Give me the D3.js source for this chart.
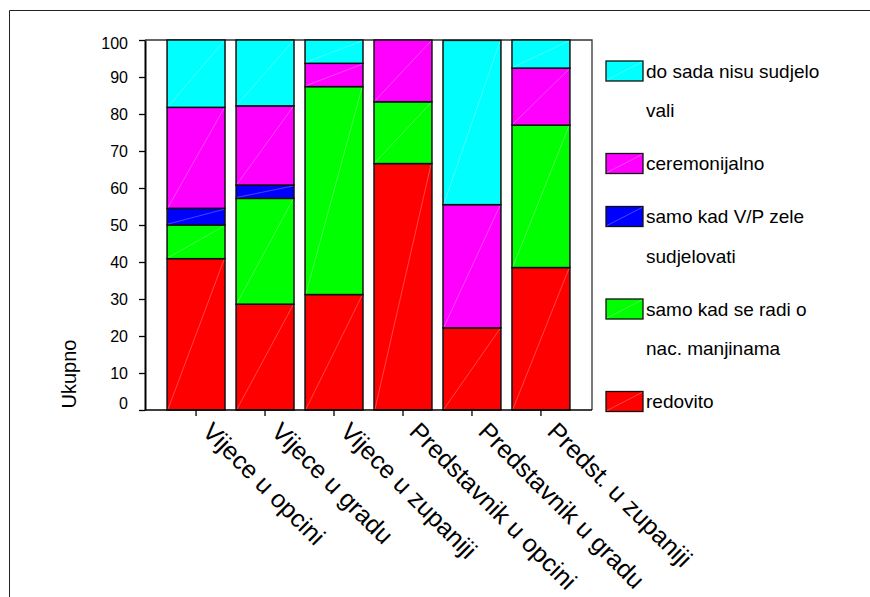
<!DOCTYPE html>
<html>
<head>
<meta charset="utf-8">
<script src="https://cdn.jsdelivr.net/npm/d3@7"></script>
<style>
  html, body { margin: 0; padding: 0; background: #fff; }
  svg { display: block; font-family: "Liberation Sans", Arial, sans-serif; }
</style>
</head>
<body>
<svg id="chart" width="870" height="597"></svg>
<script>
// ---- data ----
const categories = ["Vijece u opcini", "Vijece u gradu", "Vijece u zupaniji",
                    "Predstavnik u opcini", "Predstavnik u gradu", "Predst. u zupaniji"];
const redovito        = [40.9, 28.6, 31.2, 66.6, 22.2, 38.5];
const nacManjine      = [9.1, 28.6, 56.2, 16.7, 0, 38.5];
const kadZele         = [4.5, 3.6, 0, 0, 0, 0];
const ceremonijalno   = [27.3, 21.4, 6.3, 16.7, 33.3, 15.4];
const nisuSudjelovali = [18.2, 17.9, 6.3, 0, 44.4, 7.7];
const seriesKeys   = ["redovito", "nacManjine", "kadZele", "ceremonijalno", "nisuSudjelovali"];
const seriesLabels = [["redovito"], ["samo kad se radi o", "nac. manjinama"],
                      ["samo kad V/P zele", "sudjelovati"], ["ceremonijalno"],
                      ["do sada nisu sudjelo", "vali"]];
const seriesColors = ["#ff0000", "#00ff00", "#0000ff", "#ff00ff", "#00ffff"];
const yTicks = [0, 10, 20, 30, 40, 50, 60, 70, 80, 90, 100];
const yTitle = "Ukupno";

// ---- build table ----
const seriesValues = { redovito, nacManjine, kadZele, ceremonijalno, nisuSudjelovali };
const table = categories.map((c, i) => {
  const row = { cat: c };
  seriesKeys.forEach(k => row[k] = seriesValues[k][i]);
  return row;
});
const stacked = d3.stack().keys(seriesKeys)(table);

// ---- layout ----
const svg = d3.select("#chart");
const L = 145, R = 592, T = 40, B = 410;

// outer frame
svg.append("line").attr("x1", 9.5).attr("x2", 870).attr("y1", 10.5).attr("y2", 10.5)
  .attr("stroke", "#222").attr("stroke-width", 1);
svg.append("line").attr("x1", 9.5).attr("x2", 9.5).attr("y1", 10.5).attr("y2", 597)
  .attr("stroke", "#222").attr("stroke-width", 1);

const x = d3.scaleBand().domain(categories).range([L, R]).paddingInner(0.16).paddingOuter(0.32);
const y = d3.scaleLinear().domain([0, 100]).range([B, T]);

// plot frame (top/right)
svg.append("path")
  .attr("d", `M${L},${T}H${R}V${B}`)
  .attr("fill", "none").attr("stroke", "#333").attr("stroke-width", 1.3);

// bars
const color = d3.scaleOrdinal().domain(seriesKeys).range(seriesColors);
const layers = svg.append("g").selectAll("g").data(stacked).join("g")
  .attr("fill", d => color(d.key));
const segs = layers.selectAll("g.seg")
  .data(d => d.filter(s => s[1] - s[0] > 0))
  .join("g").attr("class", "seg");
segs.append("rect")
  .attr("x", d => x(d.data.cat))
  .attr("y", d => y(Math.min(100, d[1])))
  .attr("width", x.bandwidth())
  .attr("height", d => y(d[0]) - y(Math.min(100, d[1])))
  .attr("stroke", "#111").attr("stroke-width", 1.5);
segs.append("line")
  .attr("x1", d => x(d.data.cat) + 1)
  .attr("y1", d => y(d[0]) - 1)
  .attr("x2", d => x(d.data.cat) + x.bandwidth() - 1)
  .attr("y2", d => y(Math.min(100, d[1])) + 1)
  .attr("stroke", "#fff").attr("stroke-opacity", 0.35).attr("stroke-width", 0.8);

// y axis
const yAxis = svg.append("g").attr("transform", `translate(${L},0)`)
  .call(d3.axisLeft(y).tickValues(yTicks).tickSize(6).tickPadding(11).tickSizeOuter(0));
yAxis.select(".domain").attr("stroke", "#000").attr("stroke-width", 2);
yAxis.selectAll(".tick line").attr("stroke", "#000").attr("stroke-width", 1.3);
yAxis.selectAll(".tick text").attr("font-size", 16).attr("fill", "#000")
  .attr("font-family", "'Liberation Sans', Arial, sans-serif")
  .attr("dy", d => d === 0 ? "-0.1em" : (d === 100 ? "0.5em" : "0.32em"));

// x axis
const xAxis = svg.append("g").attr("transform", `translate(0,${B})`)
  .call(d3.axisBottom(x).tickSize(6).tickSizeOuter(0));
xAxis.select(".domain").attr("d", `M${L},0H${R}`).attr("stroke", "#000").attr("stroke-width", 1.5);
xAxis.selectAll(".tick line").attr("stroke", "#000").attr("stroke-width", 1.3);
xAxis.selectAll(".tick text")
  .attr("font-size", 25).attr("fill", "#000")
  .attr("font-family", "'Liberation Sans', Arial, sans-serif")
  .attr("text-anchor", "start")
  .attr("x", 0).attr("y", 0).attr("dy", 0)
  .attr("transform", "translate(5,23) rotate(45)");

// y title
svg.append("text")
  .attr("transform", `translate(76,374) rotate(-90)`)
  .attr("text-anchor", "middle")
  .attr("font-size", 20).attr("fill", "#000")
  .text(yTitle);

// legend (top to bottom = reverse stack order)
const legendOrder = d3.range(seriesKeys.length).reverse();
const lineH = 39.5, itemGap = 13.5;
let cy = 71;
const lg = svg.append("g");
legendOrder.forEach(i => {
  const g = lg.append("g");
  g.append("rect").attr("x", 606).attr("y", cy - 10).attr("width", 37).attr("height", 20)
    .attr("fill", seriesColors[i]).attr("stroke", "#111").attr("stroke-width", 1.3);
  g.append("line").attr("x1", 607).attr("y1", cy + 9).attr("x2", 642).attr("y2", cy - 9)
    .attr("stroke", "#fff").attr("stroke-opacity", 0.35).attr("stroke-width", 0.8);
  seriesLabels[i].forEach((t, j) => {
    g.append("text").attr("x", 646).attr("y", cy + j * lineH).attr("dy", "0.35em")
      .attr("font-size", 19).attr("fill", "#000").text(t);
  });
  cy += seriesLabels[i].length * lineH + itemGap;
});
</script>
</body>
</html>
